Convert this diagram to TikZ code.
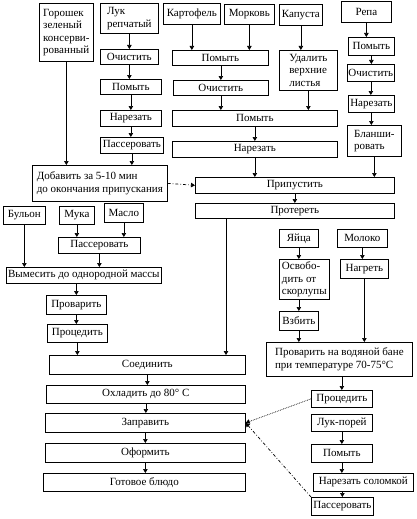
\documentclass[tikz,border=0pt]{standalone}
\usepackage{fontspec}
\setmainfont{Liberation Serif}
\usetikzlibrary{arrows.meta}

\begin{document}
\begin{tikzpicture}[x=1pt,y=-1pt,
  blk/.style={draw,line width=0.7pt,anchor=north west,inner sep=1pt,align=center,font=\fontsize{11}{12.5}\selectfont},
  arr/.style={-{Triangle[width=4.5pt,length=4pt]},line width=0.7pt}]
\useasboundingbox (0,0) rectangle (416,519);
\node[blk,minimum width=54pt,minimum height=58pt,align=left] (gorosh) at (39,3) {Горошек\\зеленый\\консерви-\\рованный};
\node[blk,minimum width=58pt,minimum height=30pt,align=left] (luk) at (100,3) {Лук\\репчатый};
\node[blk,minimum width=57pt,minimum height=21pt] (kart) at (163,3) {Картофель};
\node[blk,minimum width=50pt,minimum height=20pt] (mork) at (224,4) {Морковь};
\node[blk,minimum width=43pt,minimum height=21pt] (kap) at (279,4) {Капуста};
\node[blk,minimum width=50pt,minimum height=21pt] (repa) at (341,1) {Репа};
\node[blk,minimum width=58pt,minimum height=15pt] (lukoch) at (100,49) {Очистить};
\node[blk,minimum width=61pt,minimum height=15pt] (lukpom) at (100,79) {Помыть};
\node[blk,minimum width=61pt,minimum height=16pt] (luknar) at (100,110) {Нарезать};
\node[blk,minimum width=63pt,minimum height=16pt] (lukpas) at (100,137) {Пассеровать};
\node[blk,minimum width=96pt,minimum height=15pt] (kpom) at (172,50) {Помыть};
\node[blk,minimum width=95pt,minimum height=15pt] (koch) at (173,80) {Очистить};
\node[blk,minimum width=165pt,minimum height=16pt] (pom2) at (172,110) {Помыть};
\node[blk,minimum width=165pt,minimum height=16pt] (nar2) at (172,141) {Нарезать};
\node[blk,minimum width=58pt,minimum height=40pt,align=left] (udal) at (279,50) {Удалить\\верхние\\листья};
\node[blk,minimum width=46pt,minimum height=18pt] (rpom) at (348,37) {Помыть};
\node[blk,minimum width=47pt,minimum height=17pt] (roch) at (347,64) {Очистить};
\node[blk,minimum width=46pt,minimum height=17pt] (rnar) at (348,95) {Нарезать};
\node[blk,minimum width=54pt,minimum height=31pt,align=left] (rblan) at (347,125) {Бланши-\\ровать};
\node[blk,minimum width=135pt,minimum height=36pt,align=left] (dobav) at (32,165) {Добавить за 5-10 мин\\до окончания припускания};
\node[blk,minimum width=199pt,minimum height=16pt] (pripust) at (195,177) {Припустить};
\node[blk,minimum width=199pt,minimum height=15pt] (proter) at (195,203) {Протереть};
\node[blk,minimum width=42pt,minimum height=18pt] (bulon) at (3,206) {Бульон};
\node[blk,minimum width=35pt,minimum height=18pt] (muka) at (59,206) {Мука};
\node[blk,minimum width=39pt,minimum height=19pt] (maslo) at (104,203) {Масло};
\node[blk,minimum width=82pt,minimum height=16pt] (pas2) at (58,237) {Пассеровать};
\node[blk,minimum width=155pt,minimum height=16pt] (vymes) at (6,267) {Вымесить до однородной массы};
\node[blk,minimum width=60pt,minimum height=19pt] (provar) at (46,295) {Проварить};
\node[blk,minimum width=60pt,minimum height=18pt] (proced) at (47,324) {Процедить};
\node[blk,minimum width=39pt,minimum height=18pt] (yaica) at (279,229) {Яйца};
\node[blk,minimum width=50pt,minimum height=18pt] (moloko) at (337,229) {Молоко};
\node[blk,minimum width=50pt,minimum height=40pt,align=left] (osvob) at (279,259) {Освобо-\\дить от\\скорлупы};
\node[blk,minimum width=48pt,minimum height=19pt] (nagret) at (340,259) {Нагреть};
\node[blk,minimum width=39pt,minimum height=19pt] (vzbit) at (279,311) {Взбить};
\node[blk,minimum width=146pt,minimum height=34pt,align=left] (bane) at (266,342) {Проварить на водяной бане\\при температуре 70-75°С};
\node[blk,minimum width=196pt,minimum height=19pt] (soed) at (49,355) {Соединить};
\node[blk,minimum width=199pt,minimum height=18pt] (ohlad) at (46,385) {Охладить до 80° С};
\node[blk,minimum width=200pt,minimum height=19pt] (zaprav) at (45,413) {Заправить};
\node[blk,minimum width=200pt,minimum height=19pt] (oform) at (45,443) {Оформить};
\node[blk,minimum width=202pt,minimum height=18pt] (gotov) at (43,473) {Готовое блюдо};
\node[blk,minimum width=61pt,minimum height=17pt] (procr) at (311,390) {Процедить};
\node[blk,minimum width=61pt,minimum height=17pt] (porey) at (311,414) {Лук-порей};
\node[blk,minimum width=61pt,minimum height=18pt] (pomr) at (311,444) {Помыть};
\node[blk,minimum width=100pt,minimum height=18pt] (narsol) at (313,473) {Нарезать соломкой};
\node[blk,minimum width=62pt,minimum height=18pt] (pasr) at (311,497) {Пассеровать};
\coordinate (c1) at (226,0);
\draw[arr] (gorosh.south) -- (gorosh.south |- dobav.north);
\draw[arr] (luk) -- (lukoch);
\draw[arr] (lukoch.south) -- (lukoch.south |- lukpom.north);
\draw[arr] (lukpom.south) -- (lukpom.south |- luknar.north);
\draw[arr] (luknar.south) -- (luknar.south |- lukpas.north);
\draw[arr] (lukpas.south) -- (lukpas.south |- dobav.north);
\draw[arr] (kart.south) -- (kart.south |- kpom.north);
\draw[arr] (mork.south) -- (mork.south |- kpom.north);
\draw[arr] (koch.north |- kpom.south) -- (koch.north);
\draw[arr] (koch.south) -- (koch.south |- pom2.north);
\draw[arr] (kap.south) -- (kap.south |- udal.north);
\draw[arr] (udal.south) -- (udal.south |- pom2.north);
\draw[arr] (pom2) -- (nar2);
\draw[arr] (nar2.south) -- (nar2.south |- pripust.north);
\draw[arr] (repa.south) -- (repa.south |- rpom.north);
\draw[arr] (rpom.south) -- (rpom.south |- roch.north);
\draw[arr] (roch.south) -- (roch.south |- rnar.north);
\draw[arr] (rnar.south) -- (rnar.south |- rblan.north);
\draw[arr] (rblan.south) -- (rblan.south |- pripust.north);
\draw[arr,dashdotted] (dobav.east) -- (pripust.west);
\draw[arr] (pripust) -- (proter);
\draw[arr] (proter.south -| c1) -- (soed.north -| c1);
\draw[arr] (muka.south) -- (muka.south |- pas2.north);
\draw[arr] (maslo.south) -- (maslo.south |- pas2.north);
\draw[arr] (bulon.south) -- (bulon.south |- vymes.north);
\draw[arr] (pas2.south) -- (pas2.south |- vymes.north);
\draw[arr] (vymes.south -| provar.north) -- (provar.north);
\draw[arr] (provar.south) -- (provar.south |- proced.north);
\draw[arr] (proced.south) -- (proced.south |- soed.north);
\draw[arr] (soed.south) -- (soed.south |- ohlad.north);
\draw[arr] (ohlad.south) -- (ohlad.south |- zaprav.north);
\draw[arr] (zaprav.south) -- (zaprav.south |- oform.north);
\draw[arr] (oform.south) -- (oform.south |- gotov.north);
\draw[arr] (yaica.south) -- (yaica.south |- osvob.north);
\draw[arr] (vzbit.north |- osvob.south) -- (vzbit.north);
\draw[arr] (vzbit.south) -- (vzbit.south |- bane.north);
\draw[arr] (moloko.south) -- (moloko.south |- nagret.north);
\draw[arr] (nagret.south) -- (nagret.south |- bane.north);
\draw[arr] (bane.south -| procr.north) -- (procr.north);
\draw[arr,densely dotted] (procr.west) -- (zaprav.east);
\draw[arr] (porey.south) -- (porey.south |- pomr.north);
\draw[arr] (pomr.south) -- (pomr.south |- narsol.north);
\draw[arr] (pasr.north |- narsol.south) -- (pasr.north);
\draw[arr,dashdotted] (pasr.north west) -- (zaprav.east);
\end{tikzpicture}
\end{document}
